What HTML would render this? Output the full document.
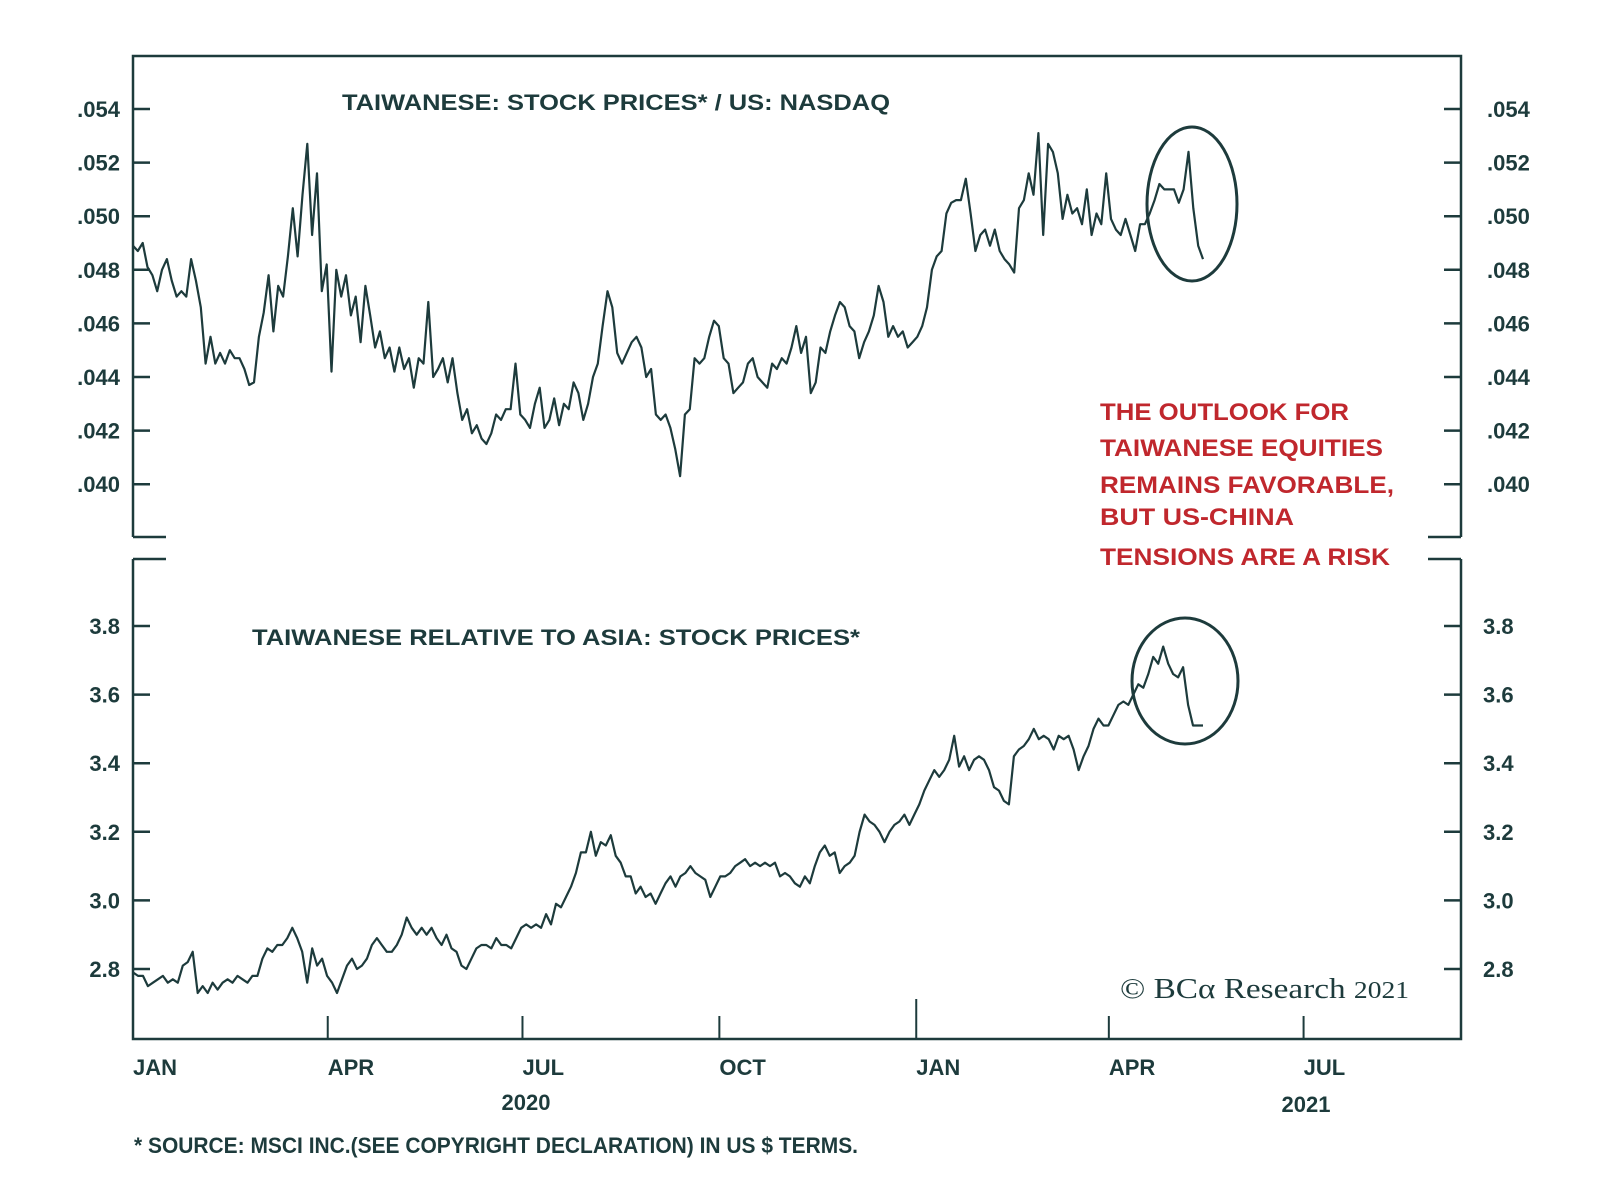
<!DOCTYPE html>
<html><head><meta charset="utf-8"><style>
html,body{margin:0;padding:0;background:#fff;}
svg{display:block;font-family:"Liberation Sans",Arial,sans-serif;}
.t{font-weight:bold;fill:#1d3b3c;font-size:22px;}
</style></head><body>
<svg id="chart" width="1600" height="1186" viewBox="0 0 1600 1186" xmlns="http://www.w3.org/2000/svg">
<g id="frame" stroke="#1d3b3c" stroke-width="2.5" fill="none">
<path d="M133,537 V56 H1461 V537" />
<path d="M133,537 H166 M1428,537 H1461" />
<path d="M133,559 V1039 H1461 V559" />
<path d="M133,559 H166 M1428,559 H1461" />
</g>
<g id="axes"></g>
<g id="series"></g>
<text class="t" x="342" y="110" font-size="23" textLength="548" lengthAdjust="spacingAndGlyphs">TAIWANESE: STOCK PRICES* / US: NASDAQ</text>
<text class="t" x="252" y="645" font-size="23" textLength="608" lengthAdjust="spacingAndGlyphs">TAIWANESE RELATIVE TO ASIA: STOCK PRICES*</text>
<g fill="#c0272d" font-weight="bold" font-size="24">
<text x="1100" y="420" textLength="249" lengthAdjust="spacingAndGlyphs">THE OUTLOOK FOR</text>
<text x="1100" y="456" textLength="283" lengthAdjust="spacingAndGlyphs">TAIWANESE EQUITIES</text>
<text x="1100" y="493" textLength="294" lengthAdjust="spacingAndGlyphs">REMAINS FAVORABLE,</text>
<text x="1100" y="525" textLength="194" lengthAdjust="spacingAndGlyphs">BUT US-CHINA</text>
<text x="1100" y="565" textLength="290" lengthAdjust="spacingAndGlyphs">TENSIONS ARE A RISK</text>
</g>
<ellipse cx="1192" cy="204" rx="45" ry="77" fill="none" stroke="#1d3b3c" stroke-width="3"/>
<ellipse cx="1185" cy="681" rx="53" ry="63" fill="none" stroke="#1d3b3c" stroke-width="3"/>
<text x="1120" y="998" font-family="'Liberation Serif',serif" font-size="29" fill="#1d3b3c" textLength="289" lengthAdjust="spacingAndGlyphs">© BCα Research <tspan font-size="24">2021</tspan></text>
<text class="t" x="526" y="1110" text-anchor="middle" font-size="23">2020</text>
<text class="t" x="1306" y="1112" text-anchor="middle" font-size="23" fill="#111">2021</text>
<text class="t" x="134" y="1153" font-size="19" textLength="724" lengthAdjust="spacingAndGlyphs">* SOURCE: MSCI INC.(SEE COPYRIGHT DECLARATION) IN US $ TERMS.</text>
</svg>
<script>
const topTicks=[54,52,50,48,46,44,42,40];
const topTickLabels=[".054",".052",".050",".048",".046",".044",".042",".040"];
const botTicks=[3.8,3.6,3.4,3.2,3.0,2.8];
const botTickLabels=["3.8","3.6","3.4","3.2","3.0","2.8"];
const monthDays=[0,91,182,274,366,456,547];
const monthLabels=["JAN","APR","JUL","OCT","JAN","APR","JUL"];
const startDay=0, endDay=500;
// values in thousandths (e.g. 48.9 = .0489)
const topValues=[48.9,48.7,49.0,48.1,47.8,47.2,48.0,48.4,47.6,47.0,47.2,47.0,48.4,47.6,46.6,44.5,45.5,44.5,44.9,44.5,45.0,44.7,44.7,44.3,43.7,43.8,45.5,46.4,47.8,45.7,47.4,47.0,48.5,50.3,48.5,50.8,52.7,49.3,51.6,47.2,48.2,44.2,48.0,47.0,47.8,46.3,47.0,45.3,47.4,46.3,45.1,45.7,44.7,45.1,44.2,45.1,44.3,44.7,43.6,44.7,44.5,46.8,44.0,44.3,44.7,43.8,44.7,43.4,42.4,42.8,41.9,42.2,41.7,41.5,41.9,42.6,42.4,42.8,42.8,44.5,42.6,42.4,42.1,43.0,43.6,42.1,42.4,43.2,42.2,43.0,42.8,43.8,43.4,42.4,43.0,44.0,44.5,45.9,47.2,46.6,44.9,44.5,44.9,45.3,45.5,45.1,44.0,44.3,42.6,42.4,42.6,42.1,41.3,40.3,42.6,42.8,44.7,44.5,44.7,45.5,46.1,45.9,44.7,44.5,43.4,43.6,43.8,44.5,44.7,44.0,43.8,43.6,44.5,44.3,44.7,44.5,45.1,45.9,44.9,45.5,43.4,43.8,45.1,44.9,45.7,46.3,46.8,46.6,45.9,45.7,44.7,45.3,45.7,46.3,47.4,46.8,45.5,45.9,45.5,45.7,45.1,45.3,45.5,45.9,46.6,48.0,48.5,48.7,50.1,50.5,50.6,50.6,51.4,50.1,48.7,49.3,49.5,48.9,49.5,48.7,48.4,48.2,47.9,50.3,50.6,51.6,50.8,53.1,49.3,52.7,52.4,51.6,49.9,50.8,50.1,50.3,49.7,51.0,49.3,50.1,49.7,51.6,49.9,49.5,49.3,49.9,49.3,48.7,49.7,49.7,50.1,50.6,51.2,51.0,51.0,51.0,50.5,51.0,52.4,50.3,48.9,48.4];
const botValues=[2.79,2.78,2.78,2.75,2.76,2.77,2.78,2.76,2.77,2.76,2.81,2.82,2.85,2.73,2.75,2.73,2.76,2.74,2.76,2.77,2.76,2.78,2.77,2.76,2.78,2.78,2.83,2.86,2.85,2.87,2.87,2.89,2.92,2.89,2.85,2.76,2.86,2.81,2.83,2.78,2.76,2.73,2.77,2.81,2.83,2.80,2.81,2.83,2.87,2.89,2.87,2.85,2.85,2.87,2.90,2.95,2.92,2.90,2.92,2.90,2.92,2.89,2.87,2.90,2.86,2.85,2.81,2.80,2.83,2.86,2.87,2.87,2.86,2.89,2.87,2.87,2.86,2.89,2.92,2.93,2.92,2.93,2.92,2.96,2.93,2.99,2.98,3.01,3.04,3.08,3.14,3.14,3.20,3.13,3.17,3.16,3.19,3.13,3.11,3.07,3.07,3.02,3.04,3.01,3.02,2.99,3.02,3.05,3.07,3.04,3.07,3.08,3.10,3.08,3.07,3.06,3.01,3.04,3.07,3.07,3.08,3.10,3.11,3.12,3.10,3.11,3.10,3.11,3.10,3.11,3.07,3.08,3.07,3.05,3.04,3.07,3.05,3.10,3.14,3.16,3.13,3.14,3.08,3.10,3.11,3.13,3.20,3.25,3.23,3.22,3.20,3.17,3.20,3.22,3.23,3.25,3.22,3.25,3.28,3.32,3.35,3.38,3.36,3.38,3.41,3.48,3.39,3.42,3.38,3.41,3.42,3.41,3.38,3.33,3.32,3.29,3.28,3.42,3.44,3.45,3.47,3.50,3.47,3.48,3.47,3.44,3.48,3.47,3.48,3.44,3.38,3.42,3.45,3.50,3.53,3.51,3.51,3.54,3.57,3.58,3.57,3.60,3.63,3.62,3.66,3.71,3.69,3.74,3.69,3.66,3.65,3.68,3.57,3.51,3.51,3.51];

const NS="http://www.w3.org/2000/svg";
const xScale=d=>133+d*2.14;
const yTop=v=>109+(54-v)*26.8;
const yBot=v=>626+(3.8-v)*343;
const axes=document.getElementById('axes'), series=document.getElementById('series');
function mk(tag,attrs,parent){const e=document.createElementNS(NS,tag);for(const k in attrs)e.setAttribute(k,attrs[k]);parent.appendChild(e);return e;}

topTicks.forEach((v,i)=>{
  const y=yTop(v);
  const l=mk('path',{d:`M133,${y}H150M1444,${y}H1461`,stroke:'#1d3b3c','stroke-width':2.5},axes);
  
  
  const a=mk('text',{x:120,y:y+8,'text-anchor':'end',class:'t'},axes);a.textContent=topTickLabels[i];
  
  
  const b=mk('text',{x:1487,y:y+8,class:'t'},axes);b.textContent=topTickLabels[i];
  
  
});
botTicks.forEach((v,i)=>{
  const y=yBot(v);
  const l=mk('path',{d:`M133,${y}H150M1444,${y}H1461`,stroke:'#1d3b3c','stroke-width':2.5},axes);
  
  
  const a=mk('text',{x:120,y:y+8,'text-anchor':'end',class:'t'},axes);a.textContent=botTickLabels[i];
  
  
  const b=mk('text',{x:1483,y:y+8,class:'t'},axes);b.textContent=botTickLabels[i];
  
  
});
monthDays.forEach((d,i)=>{
  const x=xScale(d);
  if(i>0){
    const top=(monthLabels[i]==='JAN')?999:1016;
    const t=mk('path',{d:`M${x},${top}V1039`,stroke:'#1d3b3c','stroke-width':2},axes);
    
    
  }
  const lab=mk('text',{x:x,y:1075,class:'t','font-size':20},axes);lab.textContent=monthLabels[i];
  
  
});
function line(vals,ys,name){
  const n=vals.length;
  const pts=vals.map((v,i)=>`${xScale(startDay+(endDay-startDay)*i/(n-1)).toFixed(1)},${ys(v).toFixed(1)}`);
  const p=mk('polyline',{points:pts.join(' '),fill:'none',stroke:'#1d3b3c','stroke-width':2.2,'stroke-linejoin':'round'},series);
  
  
}
line(topValues,yTop,'taiwan-vs-nasdaq-line');
line(botValues,yBot,'taiwan-vs-asia-line');
</script>
</body></html>
